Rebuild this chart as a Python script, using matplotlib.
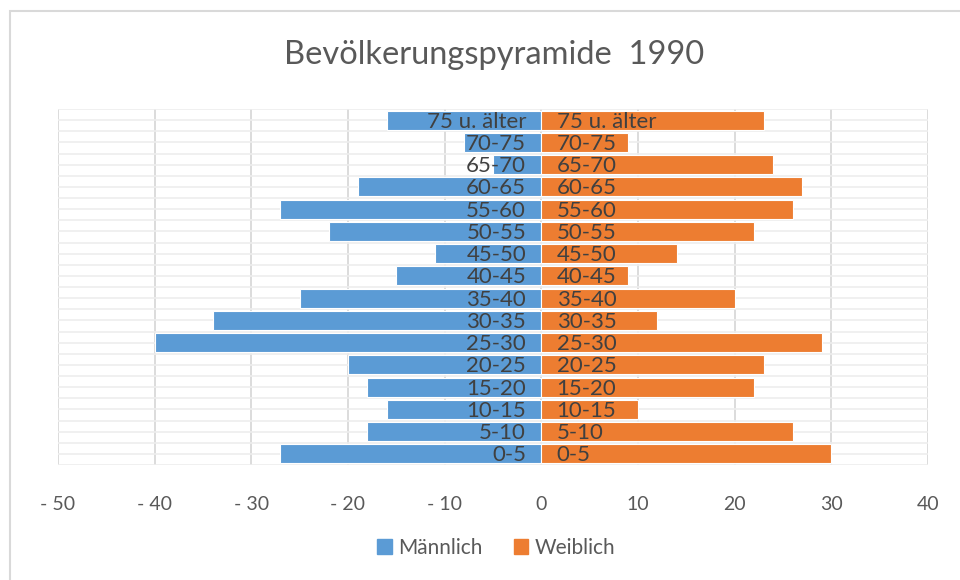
import matplotlib.pyplot as plt
from matplotlib.patches import Rectangle, Patch
from matplotlib.ticker import FuncFormatter

plt.rcParams['font.family'] = ['Lato', 'DejaVu Sans']

# age groups, bottom to top
groups = ['0-5', '5-10', '10-15', '15-20', '20-25', '25-30', '30-35', '35-40',
          '40-45', '45-50', '50-55', '55-60', '60-65', '65-70', '70-75', '75 u. älter']
male = [-27, -18, -16, -18, -20, -40, -34, -25, -15, -11, -22, -27, -19, -5, -8, -16]
female = [30, 26, 10, 22, 23, 29, 12, 20, 9, 14, 22, 26, 27, 24, 9, 23]
xticks = [-50, -40, -30, -20, -10, 0, 10, 20, 30, 40]

blue = '#5B9BD5'
orange = '#ED7D31'
txt = '#404040'
grey = '#595959'

fig = plt.figure(figsize=(9.6, 5.8), dpi=100)
ax = fig.add_axes([58 / 960, 1 - 465 / 580, 870 / 960, 356 / 580])

y = list(range(len(groups)))
ax.barh(y, male, height=0.86, color=blue, edgecolor='white', linewidth=0.8, label='Männlich')
ax.barh(y, female, height=0.86, color=orange, edgecolor='white', linewidth=0.8, label='Weiblich')

# category labels next to the axis on both sides
for i, g in enumerate(groups):
    ax.annotate(g, (0, i), xytext=(-11, -1), textcoords='offset points',
                ha='right', va='center', fontsize=16, color=txt)
    ax.annotate(g, (0, i), xytext=(11, -1), textcoords='offset points',
                ha='left', va='center', fontsize=16, color=txt)

ax.set_xlim(-50, 40)
ax.set_ylim(-0.5, len(groups) - 0.5)
ax.set_xticks(xticks)
ax.xaxis.set_major_formatter(FuncFormatter(lambda v, p: f'- {abs(int(v))}' if v < 0 else f'{int(v)}'))
ax.tick_params(axis='x', length=0, pad=22, labelsize=14, labelcolor=grey)
ax.set_yticks([i - 0.5 for i in range(len(groups) + 1)])
ax.set_yticks([i for i in range(len(groups))], minor=True)
ax.tick_params(axis='y', which='both', length=0, labelleft=False)
ax.grid(axis='x', color='#D9D9D9', linewidth=1.3)
ax.grid(axis='y', which='both', color='#EEEEEE', linewidth=1.2)
ax.set_axisbelow(True)
for s in ax.spines.values():
    s.set_visible(False)

fig.text(494 / 960, 1 - 55 / 580, 'Bevölkerungspyramide  1990', ha='center', va='center',
         fontsize=23.5, color=grey)

handles = [Patch(color=blue), Patch(color=orange)]
fig.legend(handles, ['Männlich', 'Weiblich'], loc='center', bbox_to_anchor=(496 / 960, 1 - 548 / 580),
           ncol=2, frameon=False, fontsize=15, labelcolor=grey, handlelength=0.7, handleheight=0.7,
           handletextpad=0.3, columnspacing=1.5)

# chart border (only top and left fall inside the picture)
fig.patches.append(Rectangle((10 / 960, -0.1), 1.2, 1 - 11 / 580 + 0.1, transform=fig.transFigure,
                             fill=False, edgecolor='#D9D9D9', linewidth=1.5))

fig.savefig('out.png', dpi=100)
